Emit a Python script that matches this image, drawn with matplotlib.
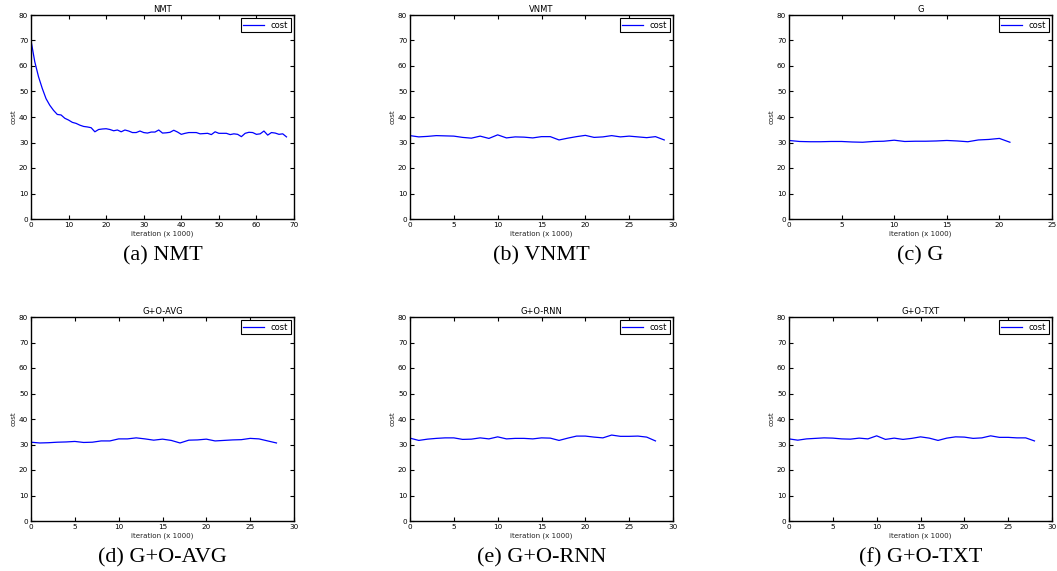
import matplotlib
matplotlib.use("Agg")
import matplotlib.pyplot as plt

# cost per 1000 iterations
nmt_cost = [70.0, 61.7, 55.8, 51.2, 47.2, 44.6, 42.6, 41.0, 40.8, 39.5, 38.8, 37.9, 37.5,
            36.8, 36.3, 36.1, 35.8, 34.2, 35.1, 35.3, 35.4, 35.1, 34.6, 34.9, 34.2, 34.9,
            34.5, 33.9, 33.9, 34.5, 33.9, 33.7, 34.1, 34.1, 34.9, 33.7, 33.8, 34.0, 34.8,
            34.1, 33.2, 33.6, 33.9, 33.9, 33.9, 33.4, 33.5, 33.6, 33.1, 34.2, 33.6, 33.6,
            33.6, 33.1, 33.4, 33.2, 32.3, 33.6, 34.0, 33.9, 33.2, 33.4, 34.5, 32.9, 33.9,
            33.7, 33.2, 33.4, 32.2]
vnmt_cost = [32.7, 32.2, 32.4, 32.7, 32.6, 32.5, 32.0, 31.7, 32.5, 31.6, 33.0, 31.8, 32.2,
             32.1, 31.8, 32.3, 32.3, 31.0, 31.7, 32.3, 32.8, 32.0, 32.2, 32.7, 32.2, 32.5,
             32.2, 31.9, 32.3, 31.0]
g_cost = [30.8, 30.4, 30.3, 30.3, 30.4, 30.4, 30.2, 30.1, 30.4, 30.5, 30.9, 30.4, 30.5,
          30.5, 30.6, 30.8, 30.6, 30.3, 31.0, 31.2, 31.6, 30.1]
avg_cost = [30.9, 30.6, 30.7, 30.9, 31.0, 31.2, 30.8, 30.9, 31.4, 31.4, 32.2, 32.2, 32.6,
            32.2, 31.7, 32.1, 31.6, 30.6, 31.7, 31.8, 32.1, 31.4, 31.6, 31.8, 31.9, 32.4,
            32.2, 31.4, 30.6]
rnn_cost = [32.5, 31.6, 32.1, 32.4, 32.6, 32.6, 32.0, 32.1, 32.6, 32.2, 33.0, 32.2, 32.4,
            32.4, 32.2, 32.6, 32.5, 31.6, 32.5, 33.3, 33.3, 32.9, 32.6, 33.7, 33.2, 33.2,
            33.3, 32.9, 31.4]
txt_cost = [32.2, 31.7, 32.2, 32.4, 32.6, 32.5, 32.2, 32.1, 32.5, 32.2, 33.4, 32.0, 32.5,
            32.0, 32.4, 33.0, 32.5, 31.6, 32.5, 33.0, 32.9, 32.4, 32.6, 33.4, 32.8, 32.8,
            32.6, 32.6, 31.4]

titles = ["NMT", "VNMT", "G", "G+O-AVG", "G+O-RNN", "G+O-TXT"]
captions = ["(a) NMT", "(b) VNMT", "(c) G", "(d) G+O-AVG", "(e) G+O-RNN", "(f) G+O-TXT"]
xmax = [70, 30, 25, 30, 30, 30]
series = [nmt_cost, vnmt_cost, g_cost, avg_cost, rnn_cost, txt_cost]

W, H = 1057, 571
fig = plt.figure(figsize=(W / 100, H / 100), dpi=100, facecolor="white")

lefts = [31, 410, 789]
tops = [15, 317]
aw, ah = 263, 204

for i in range(6):
    r, c = divmod(i, 3)
    l = lefts[c]
    t = tops[r]
    ax = fig.add_axes([l / W, (H - t - ah) / H, aw / W, ah / H])
    ys = series[i]
    ax.plot(range(len(ys)), ys, color="#0000ff", lw=0.9, label="cost")
    ax.set_xlim(0, xmax[i])
    ax.set_ylim(0, 80)
    ax.set_yticks(range(0, 81, 10))
    ax.set_title(titles[i], fontsize=6, pad=2)
    ax.set_xlabel("iteration (x 1000)", fontsize=5.1, labelpad=2, color="#222222")
    ax.set_ylabel("cost", fontsize=5.1, labelpad=2, color="#222222")
    ax.tick_params(direction="in", top=True, right=True, length=3, width=0.8,
                   labelsize=5.2, pad=2)
    for s in ax.spines.values():
        s.set_linewidth(1.0)
    leg = ax.legend(loc="upper right", fontsize=6, fancybox=False, framealpha=1,
                    handlelength=2.5, borderaxespad=0.4, borderpad=0.3)
    leg.get_frame().set_edgecolor("black")
    leg.get_frame().set_linewidth(0.8)
    cx = (l + aw / 2) / W
    cy = (H - t - ah - 37) / H
    fig.text(cx, cy, captions[i], ha="center", va="center", fontsize=16,
             family="Liberation Serif")

fig.savefig("out.png", dpi=100, facecolor="white")
